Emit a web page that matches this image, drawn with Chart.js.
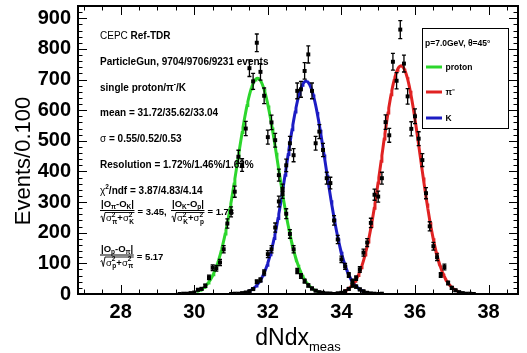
<!DOCTYPE html>
<html>
<head>
<meta charset="utf-8">
<script src="https://cdn.jsdelivr.net/npm/chart.js@4.4.1/dist/chart.umd.min.js"></script>
<style>
  html, body { margin: 0; padding: 0; background: #fff; }
  canvas { display: block; }
</style>
</head>
<body>
<canvas id="dndx" width="527" height="353"></canvas>
<script>
const binWidth = 0.1

// histogram contents, one entry per 0.1 bin starting at the given bin centre
const protonStart = 29.6
const protonCounts = [0, 1, 1, 3, 5, 14, 17, 27, 54, 86,
  84, 103, 146, 230, 268, 334, 448, 421, 540, 737,
  694, 820, 725, 647, 512, 560, 502, 388, 330, 262,
  196, 146, 75, 59, 42, 28, 18, 11, 6, 4,
  2, 1, 0, 1]
const kaonStart = 31.0
const kaonCounts = [0, 1, 1, 3, 5, 9, 16, 40, 46, 70,
  130, 146, 217, 302, 340, 420, 492, 453, 663, 668,
  728, 782, 663, 492, 530, 470, 378, 362, 240, 178,
  113, 90, 62, 42, 24, 15, 9, 4, 2, 1,
  0, 1]
const pionStart = 33.6
const pionCounts = [0, 1, 0, 2, 4, 9, 17, 28, 52, 80,
  135, 168, 232, 324, 318, 378, 561, 518, 758, 696,
  863, 752, 645, 539, 580, 507, 437, 329, 221, 156,
  120, 62, 88, 36, 20, 12, 6, 3, 1, 1,
  0]

// gaussian fit results, order proton / pi / K
const fitNames = ['proton', 'π⁻', 'K']
const fitMean = [31.72, 35.62, 33.04]
const fitSigma = [0.55, 0.52, 0.53]
const fitEvents = [9704, 9706, 9231]
const fitColors = ['#2cd62c', '#e02222', '#1c1cc4']

const xTickLabels = [28, 30, 32, 34, 36, 38]
const yTickLabels = [0, 100, 200, 300, 400, 500, 600, 700, 800, 900]

const FONT = '"Liberation Sans", Arial, Helvetica, sans-serif'
const TXT = 10      // summary text size
const FR = 9.5      // fraction text size
const SUB = 6.5

const toPoints = (start, counts) => counts.map((c, i) => ({ x: +(start + i * binWidth).toFixed(2), y: c }))

// fitted gaussian over mean +- 3 sigma, normalised to the event count
const fitCurve = (k) => {
  const m = fitMean[k], s = fitSigma[k]
  const amp = fitEvents[k] * binWidth / (s * Math.sqrt(2 * Math.PI))
  const pts = []
  for (let i = 0; i <= 150; i++) {
    const x = m - 3 * s + i * (6 * s / 150)
    pts.push({ x, y: amp * Math.exp(-((x - m) ** 2) / (2 * s * s)) })
  }
  return pts
}

const histSets = [
  toPoints(protonStart, protonCounts),
  toPoints(pionStart, pionCounts),
  toPoints(kaonStart, kaonCounts)
].map(data => ({
  data,
  showLine: false,
  pointStyle: 'rect',
  pointRadius: 2.8,
  pointBackgroundColor: '#000',
  pointBorderWidth: 0,
  order: 0
}))

const fitSets = fitMean.map((m, k) => ({
  data: fitCurve(k),
  showLine: true,
  borderColor: fitColors[k],
  borderWidth: 3,
  pointRadius: 0,
  tension: 0,
  order: 1
}))

function put(ctx, x, y, text, size, bold) {
  ctx.font = (bold ? 'bold ' : '') + size + 'px ' + FONT
  ctx.fillText(text, x, y)
  return x + ctx.measureText(text).width
}

function sigmaSq(ctx, x, y, sub) {
  const e = put(ctx, x, y, 'σ', FR, false)
  const a = put(ctx, e, y - 4.5, '2', SUB, true)
  const b = put(ctx, e + 0.5, y + 2.5, sub, SUB, true)
  return Math.max(a, b)
}

// |O_a-O_b| over sqrt(sigma_c^2 + sigma_d^2), then the value
function fraction(ctx, x, lineY, a, b, c, d, tail) {
  const ny = lineY - 3
  let nx = x + 1
  nx = put(ctx, nx, ny, '|O', FR, true)
  nx = put(ctx, nx, ny + 2, a, SUB, true)
  nx = put(ctx, nx, ny, '-O', FR, true)
  nx = put(ctx, nx, ny + 2, b, SUB, true)
  nx = put(ctx, nx, ny, '|', FR, true)

  const dy = lineY + 11
  let dx = x + 6
  dx = sigmaSq(ctx, dx, dy, c)
  dx = put(ctx, dx, dy, '+', FR, true)
  dx = sigmaSq(ctx, dx, dy, d)

  const right = Math.max(nx, dx) + 0.5
  ctx.lineWidth = 0.9
  ctx.beginPath()
  ctx.moveTo(x + 0.5, dy - 4)
  ctx.lineTo(x + 1.8, dy - 5)
  ctx.lineTo(x + 3.3, dy + 1)
  ctx.lineTo(x + 5, lineY + 2.5)
  ctx.lineTo(right, lineY + 2.5)
  ctx.stroke()
  ctx.lineWidth = 1
  ctx.beginPath()
  ctx.moveTo(x, lineY + 0.5)
  ctx.lineTo(right, lineY + 0.5)
  ctx.stroke()
  put(ctx, right + 3, lineY + 5, tail, FR, true)
}

const rootStyle = {
  id: 'rootStyle',
  beforeDraw(chart) {
    const { ctx } = chart
    ctx.save()
    ctx.fillStyle = '#fff'
    ctx.fillRect(0, 0, chart.width, chart.height)
    ctx.restore()
  },
  afterDatasetsDraw(chart) {
    const { ctx } = chart
    const xs = chart.scales.x, ys = chart.scales.y
    ctx.save()
    ctx.strokeStyle = '#000'
    ctx.lineWidth = 1.3
    histSets.forEach(set => {
      set.data.forEach(p => {
        if (p.y <= 0) return
        const err = Math.sqrt(p.y)
        const px = xs.getPixelForValue(p.x)
        const top = ys.getPixelForValue(p.y + err)
        const bot = ys.getPixelForValue(Math.max(0, p.y - err))
        ctx.beginPath()
        ctx.moveTo(px, top); ctx.lineTo(px, bot)
        ctx.moveTo(px - 2, top); ctx.lineTo(px + 2, top)
        ctx.moveTo(px - 2, bot); ctx.lineTo(px + 2, bot)
        ctx.stroke()
      })
    })
    ctx.restore()
  },
  afterDraw(chart) {
    const { ctx, chartArea: a } = chart
    const xs = chart.scales.x, ys = chart.scales.y
    ctx.save()
    ctx.strokeStyle = '#000'
    ctx.fillStyle = '#000'

    // frame
    ctx.lineWidth = 2
    ctx.strokeRect(a.left, a.top, a.right - a.left, a.bottom - a.top)

    // ticks on all four sides, pointing inwards
    ctx.lineWidth = 1
    ctx.beginPath()
    for (let v = 27; v <= 38.8; v += 0.5) {
      const px = Math.round(xs.getPixelForValue(v)) + 0.5
      const len = Math.abs(v % 2) < 1e-6 ? 9 : 4.5
      ctx.moveTo(px, a.bottom); ctx.lineTo(px, a.bottom - len)
      ctx.moveTo(px, a.top); ctx.lineTo(px, a.top + len)
    }
    for (let v = 0; v <= ys.max; v += 20) {
      const py = Math.round(ys.getPixelForValue(v)) + 0.5
      const len = v % 100 === 0 ? 9 : 4.5
      ctx.moveTo(a.left, py); ctx.lineTo(a.left + len, py)
      ctx.moveTo(a.right, py); ctx.lineTo(a.right - len, py)
    }
    ctx.stroke()

    // tick labels
    ctx.font = 'bold 20px ' + FONT
    ctx.textBaseline = 'middle'
    ctx.textAlign = 'center'
    xTickLabels.forEach(v => ctx.fillText(String(v), xs.getPixelForValue(v), a.bottom + 18))
    ctx.textAlign = 'right'
    yTickLabels.forEach(v => ctx.fillText(String(v), a.left - 7, ys.getPixelForValue(v)))

    // axis titles
    ctx.textBaseline = 'alphabetic'
    ctx.textAlign = 'left'
    ctx.font = '23px ' + FONT
    const w1 = ctx.measureText('dNdx').width
    ctx.font = '13px ' + FONT
    const w2 = ctx.measureText('meas').width
    const tx = (a.left + a.right) / 2 - (w1 + w2) / 2
    put(ctx, tx, 345, 'dNdx', 23, false)
    put(ctx, tx + w1, 351, 'meas', 13, false)

    ctx.save()
    ctx.translate(30, 161)
    ctx.rotate(-Math.PI / 2)
    ctx.textAlign = 'center'
    ctx.font = '22px ' + FONT
    ctx.fillText('Events/0.100', 0, 0)
    ctx.restore()

    // fit summary
    const x0 = 100
    let cx = put(ctx, x0, 38.5, 'CEPC ', TXT, false)
    put(ctx, cx, 38.5, 'Ref-TDR', TXT, true)
    put(ctx, x0, 65, 'ParticleGun, ' + fitEvents.join('/') + ' events', TXT, true)
    cx = put(ctx, x0, 90.5, 'single proton/π', TXT, true)
    cx = put(ctx, cx, 86, '-', SUB, true)
    put(ctx, cx, 90.5, '/K', TXT, true)
    put(ctx, x0, 116, 'mean = ' + fitMean.map(v => v.toFixed(2)).join('/'), TXT, true)
    cx = put(ctx, x0, 141.5, 'σ', TXT, false)
    put(ctx, cx, 141.5, ' = ' + fitSigma.map(v => v.toFixed(2)).join('/'), TXT, true)
    put(ctx, x0, 167.5, 'Resolution = 1.72%/1.46%/1.62%', TXT, true)
    cx = put(ctx, x0, 193.5, 'χ', TXT, false)
    cx = put(ctx, cx, 189, '2', SUB, true)
    put(ctx, cx, 193.5, '/ndf = 3.87/4.83/4.14', TXT, true)
    fraction(ctx, x0, 210, 'π', 'K', 'π', 'K', '= 3.45,')
    fraction(ctx, 171, 210, 'K', 'p', 'K', 'p', '= 1.73')
    fraction(ctx, x0, 254.5, 'p', 'π', 'p', 'π', '= 5.17')

    // legend
    ctx.lineWidth = 1
    ctx.strokeRect(422.5, 28.5, 86, 100)
    put(ctx, 425, 46, 'p=7.0GeV, θ=45°', 8.5, true)
    const rows = [67, 92, 118]
    fitNames.forEach((name, k) => {
      ctx.strokeStyle = fitColors[k]
      ctx.lineWidth = 3
      ctx.beginPath()
      ctx.moveTo(426, rows[k]); ctx.lineTo(442, rows[k])
      ctx.stroke()
      put(ctx, 445.5, rows[k] + 3, name, 8.5, true)
    })
    ctx.restore()
  }
}

new Chart(document.getElementById('dndx'), {
  type: 'scatter',
  data: { datasets: [...histSets, ...fitSets] },
  options: {
    responsive: false,
    devicePixelRatio: 1,
    animation: false,
    layout: { padding: { left: 78, top: 6, right: 9, bottom: 59 } },
    plugins: { legend: { display: false }, tooltip: { enabled: false } },
    scales: {
      x: { type: 'linear', min: 26.84, max: 38.8, display: false },
      y: { type: 'linear', min: 0, max: 940, display: false }
    }
  },
  plugins: [rootStyle]
})
</script>
</body>
</html>
